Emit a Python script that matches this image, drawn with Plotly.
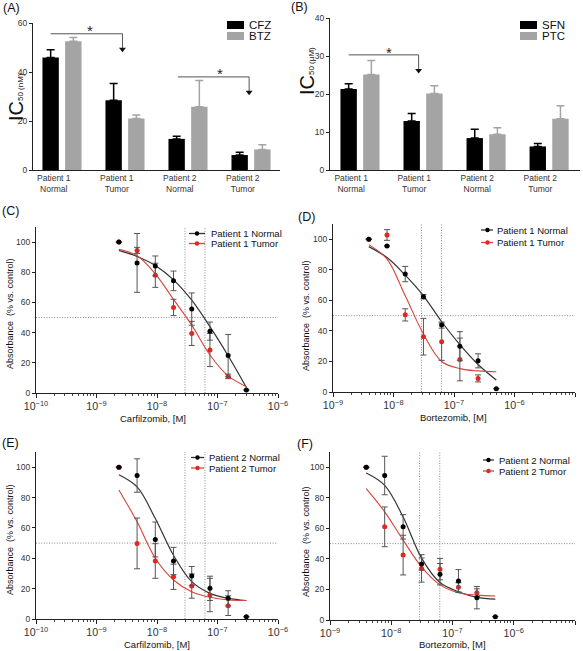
import plotly.graph_objects as go

W, H = 583, 651
FONT = "Liberation Sans, Arial, Helvetica, sans-serif"

# ---------------- data ----------------
group_labels = ["Patient 1<br>Normal", "Patient 1<br>Tumor", "Patient 2<br>Normal", "Patient 2<br>Tumor"]
group_idx = [0, 1, 2, 3]

cfz_ic50 = [45.9, 28.5, 12.7, 6.1]
cfz_err = [3.2, 6.8, 1.1, 1.1]
btz_ic50 = [52.6, 21.0, 25.8, 8.4]
btz_err = [1.5, 1.5, 10.7, 1.9]

sfn_ic50 = [21.3, 12.9, 8.4, 6.2]
sfn_err = [1.4, 2.0, 2.3, 0.8]
ptc_ic50 = [25.1, 20.1, 9.4, 13.5]
ptc_err = [3.7, 2.1, 1.7, 3.4]

carf_dose = [2.34375e-9, 4.6875e-9, 9.375e-9, 1.875e-8, 3.75e-8, 7.5e-8, 1.5e-7, 3.0e-7]
bort_dose = [3.90625e-9, 7.8125e-9, 1.5625e-8, 3.125e-8, 6.25e-8, 1.25e-7, 2.5e-7, 5.0e-7]

# (C) Carfilzomib, patient 1
c_norm = [100, 86.2, 84.2, 74.3, 55.6, 41.0, 24.8, 2.0]
c_norm_err = [0, 19.5, 6.6, 6.5, 10.7, 6.0, 14.0, 0]
c_tum = [100, 94.5, 78.0, 56.7, 39.5, 28.5, 11.0]
c_tum_err = [0, 2.0, 8.0, 5.4, 8.0, 11.0, 1.5]
c_norm_fit = [94.5, 90.5, 84.5, 75.0, 61.5, 44.0, 24.7, 3.7]
c_tum_fit = [95.2, 91.0, 79.0, 62.0, 45.0, 25.2, 11.3, 4.2]

# (D) Bortezomib, patient 1
d_norm = [100, 95.6, 77.2, 62.4, 43.8, 30.0, 20.4, 2.2]
d_norm_err = [0, 0, 5.0, 1.5, 2.0, 9.5, 4.6, 0]
d_tum = [100, 102.8, 50.5, 36.2, 32.9, 21.3, 8.9]
d_tum_err = [0, 3.5, 4.0, 12.0, 12.2, 14.0, 2.3]
d_norm_fit = [95.2, 88.0, 76.5, 63.0, 46.0, 31.0, 18.0, 7.8]
d_tum_fit = [96.5, 87.0, 63.0, 38.0, 20.0, 15.3, 13.8, 13.3]

# (E) Carfilzomib, patient 2
e_norm = [100, 94.5, 52.4, 38.2, 28.3, 20.2, 13.6, 1.5]
e_norm_err = [0, 11.0, 11.5, 9.0, 6.3, 8.0, 5.0, 0]
e_tum = [100, 49.8, 38.2, 27.8, 21.7, 15.8, 8.8]
e_tum_err = [0, 16.7, 11.4, 8.3, 8.0, 11.0, 6.5]
e_norm_fit = [95.0, 87.0, 66.2, 42.0, 24.6, 16.9, 13.6, 12.2]
e_tum_fit = [85.0, 64.0, 40.0, 25.7, 18.0, 14.3, 12.5, 12.2]

# (F) Bortezomib, patient 2
f_norm = [100, 94.6, 61.0, 36.6, 30.0, 25.5, 14.6, 2.2]
f_norm_err = [0, 12.6, 8.0, 4.0, 7.0, 7.5, 7.3, 0]
f_tum = [100, 61.0, 42.5, 33.8, 33.3, 21.4, 17.9]
f_tum_err = [0, 13.0, 13.0, 9.0, 7.0, 3.0, 2.5]
f_norm_fit = [96.3, 88.2, 67.5, 40.5, 24.5, 18.5, 14.8, 13.7]
f_tum_fit = [86.0, 70.8, 52.3, 34.8, 23.0, 17.9, 16.3, 15.7]

half_max = 50
ref_conc = [2.9e-8, 6.2e-8]

# ---------------- styling ----------------
BLACK = "#000000"
GRAY = "#a4a4a4"
RED = "#e3261f"
RED_LINE = "#d6453d"
DARK = "#333333"
ERR = "#555555"
DOT = "#8a8a8a"
DOTDASH = "1px,1.6px"


def px_x(x0, x1):
    return [x0 / W, x1 / W]


def px_y(top, bottom):
    return [1 - bottom / H, 1 - top / H]


def fx(x):
    return x / W


def fy(y):
    return 1 - y / H


fig = go.Figure()

# ---------------- bar panels ----------------
BAR_W = 0.26


def add_bars(xa, ya, means, errs, color, offset):
    fig.add_trace(go.Bar(
        x=group_idx, y=means, width=BAR_W, offset=offset,
        marker=dict(color=color, line=dict(width=0)),
        error_y=dict(type="data", array=errs, arrayminus=[0] * len(errs), symmetric=False,
                     color=color, thickness=1.5, width=4),
        xaxis=xa, yaxis=ya, showlegend=False, hoverinfo="skip"))


add_bars("x", "y", cfz_ic50, cfz_err, BLACK, -0.31)
add_bars("x", "y", btz_ic50, btz_err, GRAY, 0.05)
add_bars("x2", "y2", sfn_ic50, sfn_err, BLACK, -0.31)
add_bars("x2", "y2", ptc_ic50, ptc_err, GRAY, 0.05)

# significance brackets: (x_start, x_end, line_y, tip_y)
sig_A = [(-0.18, 0.96, 55.6, 49.3), (1.84, 2.97, 38.0, 31.7)]
sig_B = [(-0.18, 0.93, 30.3, 26.2)]


def add_sig(xa, ya, brackets):
    for x0, x1, yl, yt in brackets:
        fig.add_trace(go.Scatter(
            x=[x0, x1, x1], y=[yl, yl, yt], mode="lines",
            line=dict(color="#555555", width=1), xaxis=xa, yaxis=ya,
            showlegend=False, hoverinfo="skip"))
        fig.add_trace(go.Scatter(
            x=[x1], y=[yt], mode="markers",
            marker=dict(symbol="triangle-down", size=6, color="#111111"),
            xaxis=xa, yaxis=ya, showlegend=False, hoverinfo="skip"))


add_sig("x", "y", sig_A)
add_sig("x2", "y2", sig_B)

# ---------------- dose-response panels ----------------


def add_curve_panel(xa, ya, xr, dose, norm, norm_err, tum, tum_err, norm_fit, tum_fit):
    lo, hi = 10 ** xr[0], 10 ** xr[1]
    fig.add_trace(go.Scatter(x=[lo, hi], y=[half_max, half_max], mode="lines",
                             line=dict(color=DOT, width=1, dash=DOTDASH),
                             xaxis=xa, yaxis=ya, showlegend=False, hoverinfo="skip"))
    for c in ref_conc:
        fig.add_trace(go.Scatter(x=[c, c], y=[0, 110], mode="lines",
                                 line=dict(color=DOT, width=1, dash=DOTDASH),
                                 xaxis=xa, yaxis=ya, showlegend=False, hoverinfo="skip"))
    fig.add_trace(go.Scatter(x=dose, y=norm_fit, mode="lines", line=dict(color=DARK, width=1.2, shape="spline"),
                             xaxis=xa, yaxis=ya, showlegend=False, hoverinfo="skip"))
    fig.add_trace(go.Scatter(x=dose, y=tum_fit, mode="lines", line=dict(color=RED_LINE, width=1.1, shape="spline"),
                             xaxis=xa, yaxis=ya, showlegend=False, hoverinfo="skip"))
    fig.add_trace(go.Scatter(x=dose[:len(tum)], y=tum, mode="markers",
                             marker=dict(color=RED, size=5),
                             error_y=dict(type="data", array=tum_err, color=ERR, thickness=1, width=3),
                             xaxis=xa, yaxis=ya, showlegend=False, hoverinfo="skip"))
    fig.add_trace(go.Scatter(x=dose, y=norm, mode="markers",
                             marker=dict(color=BLACK, size=5),
                             error_y=dict(type="data", array=norm_err, color=ERR, thickness=1, width=3),
                             xaxis=xa, yaxis=ya, showlegend=False, hoverinfo="skip"))


add_curve_panel("x3", "y3", [-10, -6], carf_dose, c_norm, c_norm_err, c_tum, c_tum_err, c_norm_fit, c_tum_fit)
add_curve_panel("x4", "y4", [-9, -5], bort_dose, d_norm, d_norm_err, d_tum, d_tum_err, d_norm_fit, d_tum_fit)
add_curve_panel("x5", "y5", [-10, -6], carf_dose, e_norm, e_norm_err, e_tum, e_tum_err, e_norm_fit, e_tum_fit)
add_curve_panel("x6", "y6", [-9, -5], bort_dose, f_norm, f_norm_err, f_tum, f_tum_err, f_norm_fit, f_tum_fit)

# ---------------- axes ----------------
tickfont = dict(family=FONT, size=8.5, color="#333333")


def bar_x(domain, rng, shift, anchor):
    return dict(domain=domain, range=rng, showline=True, linecolor="#222", linewidth=1,
                ticks="", tickvals=[g + shift for g in group_idx], ticktext=group_labels,
                tickfont=tickfont, showgrid=False, zeroline=False, anchor=anchor,
                automargin=False)


def lin_y(domain, rng, dtick, anchor):
    return dict(domain=domain, range=rng, dtick=dtick, showline=True, linecolor="#222", linewidth=1,
                ticks="outside", ticklen=3, tickcolor="#222", tickfont=tickfont,
                showgrid=False, zeroline=False, anchor=anchor, automargin=False)


def log_x(domain, rng, anchor):
    return dict(domain=domain, type="log", range=rng, dtick=1, exponentformat="power",
                showline=True, linecolor="#222", linewidth=1, ticks="outside", ticklen=4,
                tickcolor="#222", tickfont=tickfont, showgrid=False, zeroline=False, anchor=anchor,
                automargin=False, ticklabelstandoff=0,
                minor=dict(ticks="outside", ticklen=2, tickcolor="#444", dtick="D1", showgrid=False))


fig.update_layout(
    template="none",
    xaxis=bar_x(px_x(33, 280), [-0.46, 3.46], -0.13, "y"),
    yaxis=lin_y(px_y(23, 170), [0, 60], 20, "x"),
    xaxis2=bar_x(px_x(330, 580), [-0.476, 3.49], -0.14, "y2"),
    yaxis2=lin_y(px_y(18, 170), [0, 40], 10, "x2"),
    xaxis3=log_x(px_x(36, 278), [-10, -6], "y3"),
    yaxis3=lin_y(px_y(227, 393), [0, 110], 20, "x3"),
    xaxis4=log_x(px_x(333, 575), [-9, -5], "y4"),
    yaxis4=lin_y(px_y(224, 392), [0, 110], 20, "x4"),
    xaxis5=log_x(px_x(36, 278), [-10, -6], "y5"),
    yaxis5=lin_y(px_y(452, 619), [0, 110], 20, "x5"),
    xaxis6=log_x(px_x(330, 575), [-9, -5], "y6"),
    yaxis6=lin_y(px_y(452, 620), [0, 110], 20, "x6"),
)

# ---------------- annotations & manual legends ----------------
annots = []
shapes = []


def text(x, y, s, size, xanchor="center", yanchor="middle", angle=0, color="#111111"):
    annots.append(dict(x=fx(x), y=fy(y), xref="paper", yref="paper", text=s, showarrow=False,
                       xanchor=xanchor, yanchor=yanchor, textangle=angle,
                       font=dict(family=FONT, size=size, color=color)))


# panel letters
for lab, x, y in [("(A)", 1, 8), ("(B)", 289, 7), ("(C)", 0, 211), ("(D)", 296, 217), ("(E)", 0, 443), ("(F)", 295, 444)]:
    text(x, y, lab, 12.5, xanchor="left")

# y titles
text(16, 97, "IC<span style='font-size:8px'>50 (nM)</span>", 20, angle=-90)
text(307, 71, "IC<span style='font-size:8px'>50 (µM)</span>", 20, angle=-90)
ylab = "Absorbance  (% vs. control)"
text(10, 314, ylab, 9, angle=-90)
text(306, 316, ylab, 9, angle=-90)
text(10, 540, ylab, 9, angle=-90)
text(306, 542, ylab, 9, angle=-90)

# x titles
text(153, 418, "Carfilzomib, [M]", 9.5)
text(453, 417, "Bortezomib, [M]", 9.5)
text(157, 644, "Carfilzomib, [M]", 9.5)
text(452, 644, "Bortezomib, [M]", 9.5)

# stars
for xa, ya, sx, sy in [("x", "y", 0.44, 57.0), ("x", "y", 2.51, 39.4), ("x2", "y2", 0.46, 31.0)]:
    annots.append(dict(x=sx, y=sy, xref=xa, yref=ya, text="*", showarrow=False,
                       font=dict(family=FONT, size=15, color="#222"), yanchor="middle"))

# bar legends
for (bx0, bx1, tx), items in [((227, 244, 247), [("CFZ", BLACK, 21, 29), ("BTZ", GRAY, 32, 40)]),
                              ((520, 537, 540), [("SFN", BLACK, 21, 29), ("PTC", GRAY, 32, 40)])]:
    for name, col, y0, y1 in items:
        shapes.append(dict(type="rect", xref="paper", yref="paper", x0=fx(bx0), x1=fx(bx1),
                           y0=fy(y1), y1=fy(y0), fillcolor=col, line=dict(width=0)))
        text(tx, (y0 + y1) / 2, name, 11.5, xanchor="left")

# line legends
line_legends = [
    ((189, 205, 197, 209), [("Patient 1 Normal", DARK, BLACK, 233.5), ("Patient 1 Tumor", RED_LINE, RED, 243.5)]),
    ((481, 493, 487.5, 495), [("Patient 1 Normal", DARK, BLACK, 230), ("Patient 1 Tumor", RED_LINE, RED, 242.5)]),
    ((191, 204, 197.5, 207), [("Patient 2 Normal", DARK, BLACK, 457.5), ("Patient 2 Tumor", RED_LINE, RED, 468)]),
    ((483, 494, 488.5, 497), [("Patient 2 Normal", DARK, BLACK, 460), ("Patient 2 Tumor", RED_LINE, RED, 471)]),
]
for (lx0, lx1, mx, tx), items in line_legends:
    for name, lcol, mcol, y in items:
        shapes.append(dict(type="line", xref="paper", yref="paper", x0=fx(lx0), x1=fx(lx1),
                           y0=fy(y), y1=fy(y), line=dict(color=lcol, width=1.3)))
        shapes.append(dict(type="circle", xref="paper", yref="paper", x0=fx(mx - 2.2), x1=fx(mx + 2.2),
                           y0=fy(y + 2.2), y1=fy(y - 2.2), fillcolor=mcol, line=dict(width=0)))
        text(tx, y, name, 9.5, xanchor="left")

fig.update_layout(
    width=W, height=H, margin=dict(l=0, r=0, t=0, b=0, pad=0), autosize=False,
    paper_bgcolor="white", plot_bgcolor="white", showlegend=False,
    font=dict(family=FONT, size=9, color="#222"),
    annotations=annots, shapes=shapes,
)

fig.write_html("out.html", config={"displayModeBar": False},
               post_script="document.body.style.margin='0px';document.body.style.overflow='hidden';")
